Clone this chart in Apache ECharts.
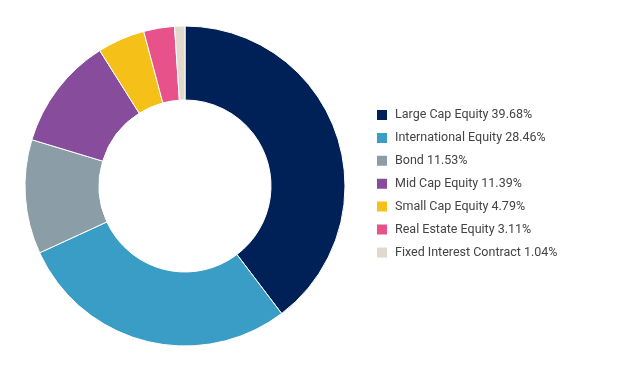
<!DOCTYPE html>
<html><head><meta charset="utf-8">
<script src="https://cdn.jsdelivr.net/npm/echarts@6/dist/echarts.min.js"></script>
<style>html,body{margin:0;padding:0;background:#fff}#c{width:627px;height:371px}</style>
</head><body><div id="c"></div>
<script>
const categories = ["Large Cap Equity","International Equity","Bond","Mid Cap Equity","Small Cap Equity","Real Estate Equity","Fixed Interest Contract"];
const values = [39.68,28.46,11.53,11.39,4.79,3.11,1.04];
const colors = ["#002157","#3a9dc5","#8b9ea8","#874c9b","#f5c018","#e8528a","#e0d9cc"];
const chart = echarts.init(document.getElementById('c'), null, {renderer:'canvas'});
chart.setOption({
  animation:false,
  color: colors,
  legend:{
    orient:'vertical', left:370, top:103,
    itemWidth:12, itemHeight:12, itemGap:8.9, icon:'rect',
    textStyle:{fontFamily:'Roboto', fontSize:12.5, lineHeight:12, color:'#444', padding:[0,0,0,2]},
    formatter: name => name + ' ' + values[categories.indexOf(name)].toFixed(2) + '%',
    data: categories
  },
  series:[{
    type:'pie', center:[185,186], radius:[86,160],
    startAngle:90, clockwise:true,
    label:{show:false}, labelLine:{show:false},
    itemStyle:{borderColor:'#fff', borderWidth:1},
    emphasis:{disabled:true},
    data: categories.map((n,i)=>({name:n, value:values[i]}))
  }]
});
</script></body></html>
